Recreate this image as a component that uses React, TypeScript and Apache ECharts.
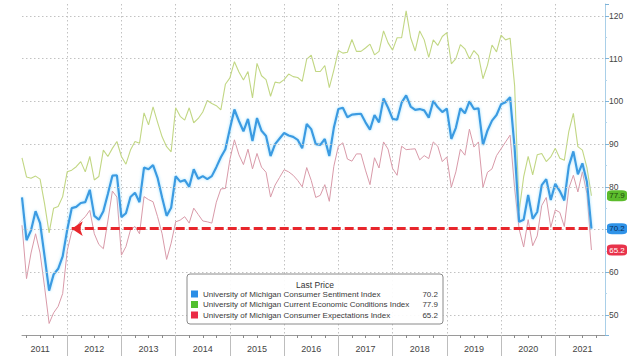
import React, { useEffect, useRef } from "react";
import * as echarts from "echarts";

const FONT = "'Liberation Sans', Arial, sans-serif";

// Month-end categories, Feb 2011 .. Nov 2021
const startYear = 2011;
const startMonth = 2;
const monthCount = 130;
const categories: string[] = [];
for (let k = 0; k < monthCount; k++) {
  const m = startMonth - 1 + k;
  const y = startYear + Math.floor(m / 12);
  const mm = (m % 12) + 1;
  categories.push(`${y}-${String(mm).padStart(2, "0")}`);
}
const monthOf = (c: string) => Number(c.slice(5));
const yearOf = (c: string) => c.slice(0, 4);

const yGridTicks = [50, 60, 70, 80, 90, 100, 110, 120];

const seriesNames = [
  "University of Michigan Consumer Sentiment Index",
  "University of Michigan Current Economic Conditions Index",
  "University of Michigan Consumer Expectations Index",
];

// Feb 2011 .. Aug 2021
const sentiment = [
  77.5, 67.5, 69.8, 74.3, 71.5, 63.7, 55.7, 59.5, 60.8, 63.7, 69.9,
  75.0, 75.3, 76.2, 76.4, 79.3, 73.2, 72.3, 74.3, 78.3, 82.6, 82.7, 72.9,
  73.8, 77.6, 78.6, 76.4, 84.5, 84.1, 85.1, 82.1, 77.5, 73.2, 75.1, 82.5,
  81.2, 81.6, 80.0, 84.1, 81.9, 82.5, 81.8, 82.5, 84.6, 86.9, 88.8, 93.6,
  98.1, 95.4, 93.0, 95.9, 90.7, 96.1, 93.1, 91.9, 87.2, 90.0, 91.3, 92.6,
  92.0, 91.7, 91.0, 89.0, 94.7, 93.5, 90.0, 89.8, 91.2, 87.2, 93.8, 98.2,
  98.5, 96.3, 96.9, 97.0, 97.1, 95.1, 93.4, 96.8, 95.1, 100.7, 98.5, 95.9,
  95.7, 99.7, 101.4, 98.8, 98.0, 98.2, 97.9, 96.2, 100.1, 98.6, 97.5, 98.3,
  91.2, 93.8, 98.4, 97.2, 100.0, 98.2, 98.4, 89.8, 93.2, 95.5, 96.8, 99.3,
  99.8, 101.0, 89.1, 71.8, 72.3, 78.1, 72.5, 74.1, 80.4, 81.8, 76.9, 80.7,
  79.0, 76.8, 84.9, 88.3, 82.9, 85.5, 81.2, 70.2,
];

const currentConditions = [
  86.8, 82.3, 82.0, 82.5, 81.8, 76.0, 69.2, 75.0, 75.4, 77.7, 83.5,
  83.9, 84.7, 85.9, 83.5, 87.1, 81.6, 82.4, 88.6, 87.1, 89.0, 90.6, 87.1,
  85.3, 88.6, 90.6, 90.2, 97.3, 94.5, 98.7, 95.1, 91.7, 89.4, 88.2, 98.5,
  96.5, 95.6, 98.5, 95.0, 96.0, 97.5, 100.2, 99.5, 99.0, 98.0, 104.0, 105.5,
  109.3, 106.9, 105.0, 107.0, 100.8, 108.9, 106.0, 105.1, 101.2, 104.5, 104.3, 105.1,
  106.4, 105.8, 105.6, 104.7, 109.9, 110.8, 107.0, 107.0, 108.4, 103.2, 107.3, 111.9,
  111.3, 111.5, 114.5, 111.7, 111.7, 112.5, 113.4, 110.9, 111.7, 116.5, 113.7, 112.0,
  114.9, 114.9, 121.2, 114.9, 111.8, 116.5, 114.4, 110.3, 114.4, 113.1, 115.2, 116.1,
  108.8, 110.0, 113.3, 112.3, 110.0, 111.9, 110.7, 105.3, 108.5, 113.2, 111.6, 115.5,
  114.4, 114.8, 103.7, 74.3, 82.3, 87.1, 82.8, 87.5, 87.8, 85.9, 87.0, 89.0,
  86.7, 86.2, 93.0, 97.2, 89.4, 88.6, 84.5, 77.9,
];

const expectations = [
  71.0, 58.5, 64.5, 69.0, 64.5, 56.5, 48.0, 50.5, 52.0, 55.0, 65.0,
  69.5, 70.5, 72.0, 73.0, 74.5, 69.0, 66.5, 65.5, 72.0, 79.0, 77.6, 64.0,
  66.0, 69.9, 70.7, 69.0, 77.7, 77.0, 76.5, 73.0, 69.0, 63.0, 66.8, 71.8,
  72.2, 73.0, 71.5, 75.0, 73.5, 72.0, 71.8, 71.5, 76.4, 79.5, 79.6, 86.4,
  91.0, 87.5, 85.2, 88.8, 84.2, 87.8, 84.6, 83.4, 77.6, 80.4, 82.2, 84.0,
  83.5, 82.7, 81.5, 80.0, 84.5, 81.5, 77.5, 78.0, 80.5, 76.6, 84.8, 89.5,
  90.3, 86.5, 86.0, 87.7, 87.7, 83.9, 80.5, 86.8, 84.4, 90.5, 88.8, 84.3,
  82.7, 89.5, 88.7, 88.8, 88.9, 86.3, 87.3, 86.6, 90.5, 89.5, 85.9, 87.0,
  79.9, 83.5, 88.8, 87.4, 93.5, 89.3, 90.5, 79.9, 83.4, 84.2, 87.3, 88.9,
  90.5, 92.1, 79.7, 70.1, 65.9, 72.3, 66.2, 68.5, 75.6, 77.5, 70.5, 74.6,
  74.0, 70.7, 79.7, 82.7, 78.8, 83.5, 78.4, 65.2,
];

const seriesData = [sentiment, currentConditions, expectations];
const lastValues = seriesData.map((d) => d[d.length - 1]);
const arrowStartCategory = "2012-01";
const arrowEndCategory = "2021-08";

const lineColors = ["#3b9be2", "#c2d784", "#d99aa9"];
const legendColors = ["#2b8ee6", "#52bf2e", "#ea2c46"];
const badgeColors = ["#2f93e8", "#5cbc2c", "#e8334b"];
const badgeText = ["#0d2c55", "#1e4a0c", "#ffffff"];

function badge(i: number) {
  const v = lastValues[i];
  return {
    silent: true,
    symbol: "roundRect",
    symbolSize: [20, 11],
    symbolOffset: [12, 0],
    itemStyle: { color: badgeColors[i] },
    label: {
      show: true,
      position: "inside",
      formatter: () => v.toFixed(1),
      fontSize: 8,
      fontFamily: FONT,
      color: badgeText[i],
    },
    data: [{ coord: [categories[categories.length - 1], v], value: v }],
  };
}

export default function App() {
  const ref = useRef<HTMLDivElement>(null);

  useEffect(() => {
    document.body.style.margin = "0";
    if (!ref.current) return;
    const chart = echarts.init(ref.current, undefined, { renderer: "svg" });

    const option: any = {
      animation: false,
      backgroundColor: "#ffffff",
      textStyle: { fontFamily: FONT },
      grid: { left: 22, right: 35, top: 4, bottom: 29, containLabel: false },
      xAxis: [
        {
          type: "category",
          data: categories,
          boundaryGap: false,
          axisLine: { lineStyle: { color: "#9a9a9a", width: 1 } },
          axisTick: {
            show: true,
            interval: (_i: number, v: string) => monthOf(v) % 3 === 0 && monthOf(v) !== 12,
            length: 3,
            lineStyle: { color: "#8a8a8a" },
          },
          axisLabel: {
            interval: (_i: number, v: string) => monthOf(v) === 6,
            formatter: (v: string) => yearOf(v),
            fontSize: 9,
            color: "#444",
            margin: 9,
            fontFamily: FONT,
          },
          splitLine: {
            show: true,
            interval: (_i: number, v: string) => monthOf(v) === 12,
            lineStyle: { type: [1.5, 2.5], color: "#c2c2c2", width: 1 },
          },
        },
        {
          type: "category",
          data: categories,
          boundaryGap: false,
          position: "bottom",
          axisLine: { show: false },
          axisLabel: { show: false },
          splitLine: { show: false },
          axisTick: {
            show: true,
            interval: (_i: number, v: string) => monthOf(v) === 12,
            length: 21,
            lineStyle: { color: "#bdbdbd" },
          },
        },
      ],
      yAxis: {
        type: "value",
        position: "right",
        min: 45.3,
        max: 122.8,
        splitNumber: 8,
        axisLine: { show: true, lineStyle: { color: "#a9cfe8", width: 1 } },
        axisTick: { show: true, length: 4, lineStyle: { color: "#7fb3d8" } },
        minorTick: { show: true, splitNumber: 2, length: 2, lineStyle: { color: "#b5d5ea" } },
        axisLabel: {
          showMinLabel: false,
          showMaxLabel: false,
          fontSize: 8.5,
          color: "#444",
          margin: 4,
          fontFamily: FONT,
          // the tick label hidden under the last-price badge in the reference
          formatter: (v: number) => (Math.abs(v - lastValues[0]) < 3 ? "" : String(v)),
        },
        splitLine: { show: false },
      },
      legend: {
        orient: "vertical",
        left: 187,
        top: 274,
        padding: [16, 5, 5, 4],
        itemGap: 2.5,
        itemWidth: 7,
        itemHeight: 7,
        icon: "rect",
        selectedMode: false,
        borderColor: "#8a8a8a",
        borderWidth: 1,
        borderRadius: 3,
        backgroundColor: "rgba(255,255,255,0.92)",
        textStyle: {
          fontSize: 8,
          color: "#3a3a3a",
          fontFamily: FONT,
          rich: {
            n: { width: 215, fontSize: 8, color: "#3a3a3a", fontFamily: FONT },
            v: { width: 20, align: "right", fontSize: 8, color: "#3a3a3a", fontFamily: FONT },
          },
        },
        formatter: (name: string) => {
          const i = seriesNames.indexOf(name);
          return `{n|${name}}{v|${lastValues[i].toFixed(1)}}`;
        },
        data: seriesNames.map((n, i) => ({ name: n, itemStyle: { color: legendColors[i], borderWidth: 0 } })),
        z: 6,
      },
      graphic: [
        {
          type: "text",
          x: 315,
          y: 280,
          z: 20,
          style: {
            text: "Last Price",
            fontSize: 8.5,
            fontFamily: FONT,
            fill: "#333",
            textAlign: "center",
            textVerticalAlign: "top",
          },
        },
      ],
      series: [
        {
          name: seriesNames[2],
          type: "line",
          data: expectations,
          xAxisIndex: 0,
          symbol: "none",
          showSymbol: false,
          clip: false,
          z: 2,
          lineStyle: { color: lineColors[2], width: 1 },
          itemStyle: { color: lineColors[2] },
          markLine: {
            silent: true,
            symbol: ["none", "none"],
            label: { show: false },
            emphasis: { disabled: true },
            lineStyle: { color: "#c2c2c2", type: [1.5, 2.5], width: 1 },
            data: yGridTicks.map((v) => ({ yAxis: v })),
          },
          markPoint: badge(2),
        },
        {
          name: seriesNames[1],
          type: "line",
          data: currentConditions,
          xAxisIndex: 0,
          symbol: "none",
          showSymbol: false,
          clip: false,
          z: 3,
          lineStyle: { color: lineColors[1], width: 1.1 },
          itemStyle: { color: lineColors[1] },
          markPoint: badge(1),
        },
        {
          name: seriesNames[0],
          type: "line",
          data: sentiment,
          xAxisIndex: 0,
          symbol: "none",
          showSymbol: false,
          clip: false,
          z: 4,
          lineStyle: {
            color: lineColors[0],
            width: 2.2,
            shadowColor: "rgba(140,220,255,0.8)",
            shadowBlur: 3,
          },
          itemStyle: { color: lineColors[0] },
          markLine: {
            silent: true,
            symbolSize: 11,
            label: { show: false },
            emphasis: { disabled: true },
            lineStyle: { color: "#e8262c", width: 3, type: [9, 4] },
            data: [
              [
                { coord: [arrowStartCategory, lastValues[0]], symbol: "arrow" },
                { coord: [arrowEndCategory, lastValues[0]], symbol: "none" },
              ],
            ],
          },
          markPoint: badge(0),
        },
      ],
    };

    chart.setOption(option);
    return () => chart.dispose();
  }, []);

  return <div ref={ref} style={{ width: 640, height: 364 }} />;
}
